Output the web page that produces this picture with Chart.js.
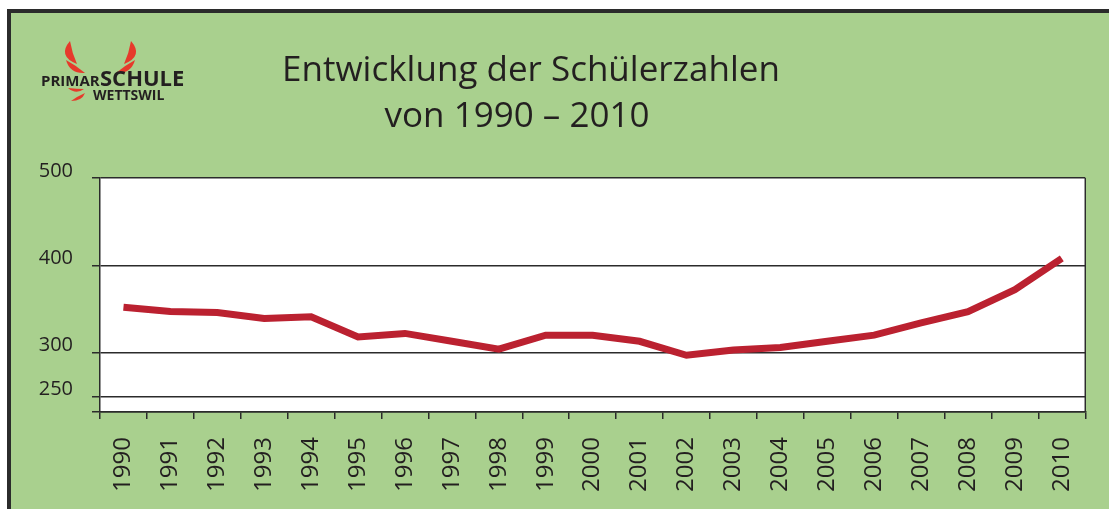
<!DOCTYPE html>
<html>
<head>
<meta charset="utf-8">
<script src="https://cdn.jsdelivr.net/npm/chart.js@4"></script>
<style>
  html, body { margin: 0; padding: 0; background: #ffffff; overflow: hidden; }
  .wrap { position: relative; width: 1109px; height: 509px; }
</style>
</head>
<body>
<div class="wrap"><canvas id="chart1"></canvas></div>
<script>
// Schülerzahlen Primarschule Wettswil
const years = ["1990", "1991", "1992", "1993", "1994", "1995", "1996", "1997", "1998", "1999",
  "2000", "2001", "2002", "2003", "2004", "2005", "2006", "2007", "2008", "2009", "2010"];
const pupils = [352, 347, 346, 339, 341, 318, 322, 313, 304, 320,
  320, 313, 297, 303, 306, 313, 320, 334, 347, 372, 408];
const yTicks = [250, 300, 400, 500];
const titleLines = ["Entwicklung der Schülerzahlen", "von 1990 \u2013 2010"];

const green = "#a9d08e";
const dark = "#2b2b2b";
const textCol = "#231f20";
const red = "#bb2130";
const logoRed = "#e63a2b";

// crescent shaped swoosh for the logo
function swoosh(ctx, x0, y0, cx1, cy1, cx2, cy2, x1, y1) {
  ctx.beginPath();
  ctx.moveTo(x0, y0);
  ctx.quadraticCurveTo(cx1, cy1, x1, y1);
  ctx.quadraticCurveTo(cx2, cy2, x0, y0);
  ctx.fill();
}

// green frame, white plot area, title and logo
const framePlugin = {
  id: "frame",
  beforeDraw(chart) {
    const ctx = chart.ctx;
    const a = chart.chartArea;
    ctx.save();
    ctx.fillStyle = "#ffffff";
    ctx.fillRect(0, 0, chart.width, chart.height);
    ctx.fillStyle = green;
    ctx.fillRect(9, 11, chart.width - 9, chart.height - 11);
    ctx.fillStyle = dark;
    ctx.fillRect(7, 9, chart.width - 7, 4);
    ctx.fillRect(7, 9, 4, chart.height - 9);
    ctx.fillStyle = "#ffffff";
    ctx.fillRect(a.left, a.top, a.right - a.left, a.bottom - a.top);
    ctx.restore();
  },
  afterDraw(chart) {
    const ctx = chart.ctx;
    const a = chart.chartArea;
    ctx.save();
    // right border of the plot
    ctx.strokeStyle = dark;
    ctx.lineWidth = 1.5;
    ctx.beginPath();
    ctx.moveTo(a.right, a.top);
    ctx.lineTo(a.right, a.bottom);
    ctx.stroke();

    // title
    ctx.fillStyle = textCol;
    ctx.textAlign = "center";
    ctx.textBaseline = "alphabetic";
    ctx.font = "35px 'Open Sans'";
    ctx.fillText(titleLines[0], 531, 81);
    ctx.fillText(titleLines[1], 517, 127);

    // logo
    ctx.fillStyle = logoRed;
    swoosh(ctx, 70, 41, 57, 56, 72, 53, 77, 64);
    swoosh(ctx, 66, 60, 70, 74, 77, 66, 85, 73);
    swoosh(ctx, 131, 41, 144, 56, 129, 53, 124, 64);
    swoosh(ctx, 135, 60, 131, 74, 124, 66, 116, 73);
    swoosh(ctx, 68, 88, 76, 95, 77, 89, 84, 89);
    swoosh(ctx, 71, 101, 82, 101, 78, 96, 85, 93);
    ctx.textAlign = "left";
    ctx.fillStyle = textCol;
    ctx.font = "bold 15px 'Open Sans'";
    ctx.fillText("PRIMAR", 41, 86);
    ctx.font = "bold 22px 'Open Sans'";
    ctx.fillText("SCHULE", 100, 86);
    ctx.font = "bold 14px 'Open Sans'";
    ctx.fillText("WETTSWIL", 93, 100);
    ctx.restore();
  }
};

new Chart(document.getElementById("chart1"), {
  type: "line",
  data: {
    labels: years,
    datasets: [{
      data: pupils,
      borderColor: red,
      borderWidth: 7,
      pointRadius: 0,
      pointHoverRadius: 0,
      tension: 0,
      fill: false,
      borderCapStyle: "butt",
    }],
  },
  options: {
    responsive: true,
    maintainAspectRatio: false,
    animation: false,
    events: [],
    layout: {
      padding: { left: 0, top: 178, right: 16, bottom: 0 },
    },
    plugins: {
      legend: { display: false },
      title: { display: false },
      tooltip: { enabled: false },
    },
    scales: {
      x: {
        offset: true,
        grid: {
          offset: true,
          drawOnChartArea: false,
          drawTicks: true,
          tickLength: 7,
          color: dark,
          lineWidth: 1.5,
        },
        border: { display: true, color: dark, width: 1.5 },
        ticks: {
          autoSkip: false,
          maxRotation: 90,
          minRotation: 90,
          padding: 18,
          color: textCol,
          font: { family: "'Open Sans'", size: 24 },
        },
        afterFit(scale) {
          scale.height = 97;
        },
      },
      y: {
        min: 232,
        max: 500,
        afterBuildTicks(axis) {
          axis.ticks = [{ value: axis.min }].concat(yTicks.map((v) => ({ value: v })));
        },
        grid: {
          color: dark,
          lineWidth: 1.5,
          tickLength: 8,
        },
        border: { display: true, color: dark, width: 1.5 },
        ticks: {
          padding: 19,
          labelOffset: -7,
          color: textCol,
          font: { family: "'Open Sans'", size: 20 },
          callback: (value) => (yTicks.includes(value) ? String(value) : ""),
        },
        afterFit(scale) {
          scale.width = 100;
        },
      },
    },
  },
  plugins: [framePlugin],
});
</script>
</body>
</html>
